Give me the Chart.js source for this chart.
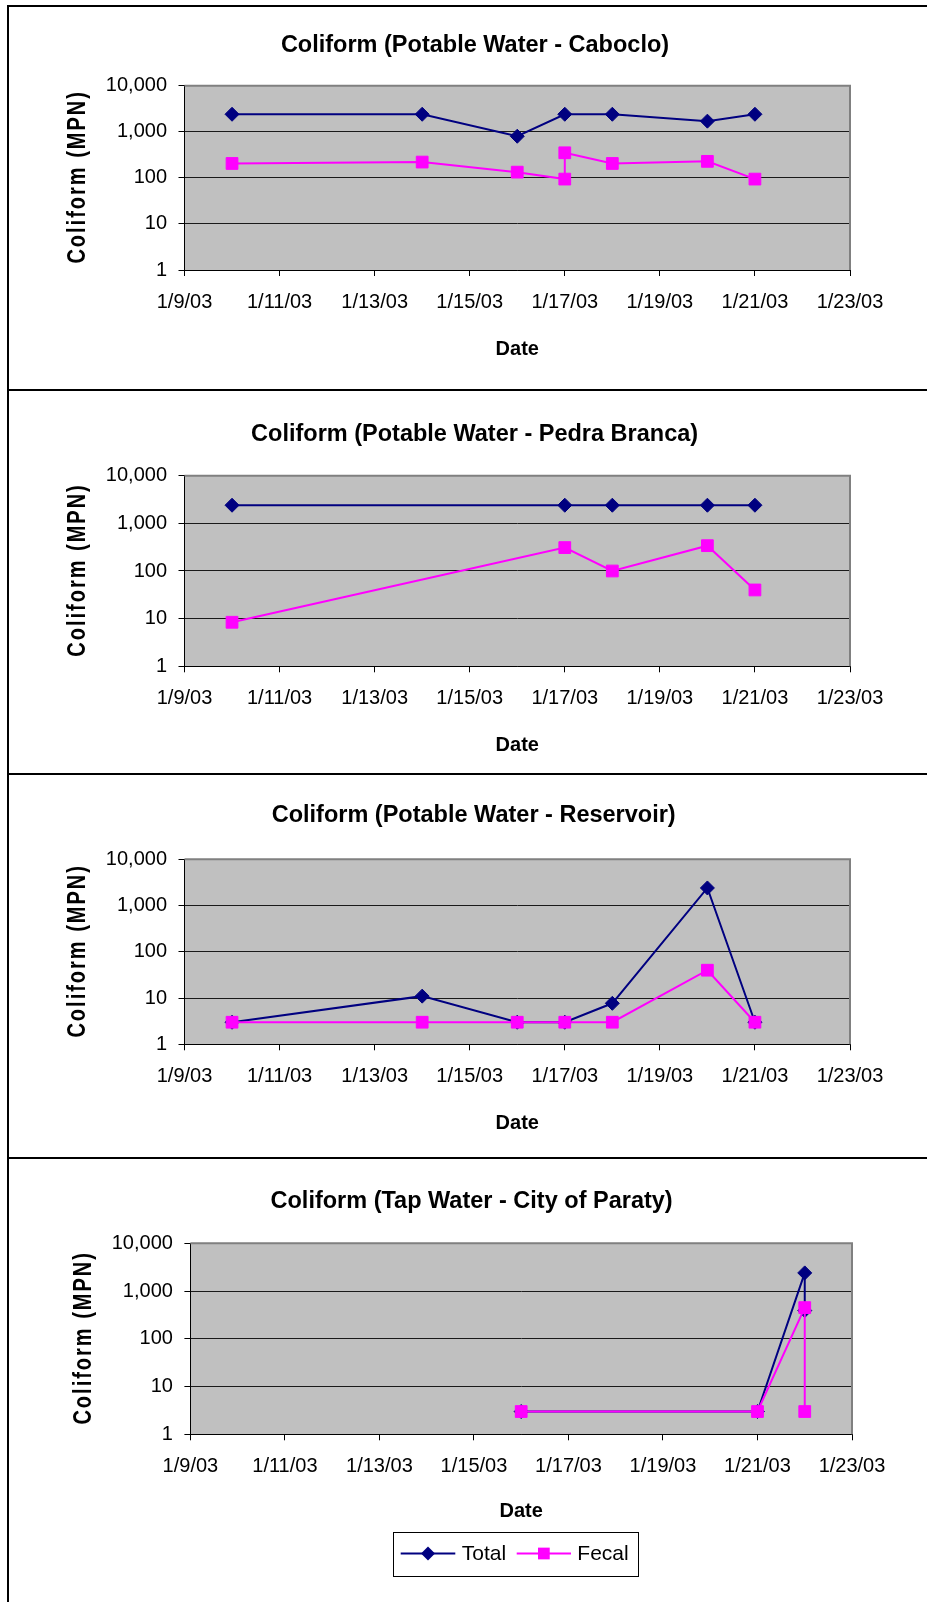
<!DOCTYPE html>
<html>
<head>
<meta charset="utf-8">
<title>Coliform counts, January 2003</title>
<script src="https://cdn.jsdelivr.net/npm/chart.js@4.4.1/dist/chart.umd.min.js"></script>
<style>
  html, body { margin: 0; padding: 0; background: #fff; }
  body { width: 927px; height: 1602px; overflow: hidden; position: relative; }
  .panel { position: absolute; left: 7px; width: 960px; border-top: 2px solid #000; border-left: 2px solid #000; }
  .panel canvas { position: absolute; left: 0; top: 0; }
</style>
</head>
<body>
<div class="panel" style="top:5px;height:382px"><canvas id="c0" width="918" height="382"></canvas></div>
<div class="panel" style="top:389px;height:382px"><canvas id="c1" width="918" height="382"></canvas></div>
<div class="panel" style="top:773px;height:382px"><canvas id="c2" width="918" height="382"></canvas></div>
<div class="panel" style="top:1157px;height:443px"><canvas id="c3" width="918" height="443"></canvas></div>

<script>
// ---- data: sampling dates and MPN counts ----
const xTickLabels = ['1/9/03', '1/11/03', '1/13/03', '1/15/03', '1/17/03', '1/19/03', '1/21/03', '1/23/03'];
const yTickValues = [1, 10, 100, 1000, 10000];

const cabocloTotalDates  = ['1/10/03', '1/14/03', '1/16/03', '1/17/03', '1/18/03', '1/20/03', '1/21/03'];
const cabocloTotalValues = [2400, 2400, 800, 2400, 2400, 1700, 2400];
const cabocloFecalDates  = ['1/10/03', '1/14/03', '1/16/03', '1/17/03', '1/17/03', '1/18/03', '1/20/03', '1/21/03'];
const cabocloFecalValues = [205, 220, 133, 94, 350, 205, 228, 94];

const pedraTotalDates  = ['1/10/03', '1/17/03', '1/18/03', '1/20/03', '1/21/03'];
const pedraTotalValues = [2400, 2400, 2400, 2400, 2400];
const pedraFecalDates  = ['1/10/03', '1/17/03', '1/18/03', '1/20/03', '1/21/03'];
const pedraFecalValues = [8.4, 310, 100, 340, 40];

const reservoirTotalDates  = ['1/10/03', '1/14/03', '1/16/03', '1/17/03', '1/18/03', '1/20/03', '1/21/03'];
const reservoirTotalValues = [3, 11, 3, 3, 7.7, 2400, 3];
const reservoirFecalDates  = ['1/10/03', '1/14/03', '1/16/03', '1/17/03', '1/18/03', '1/20/03', '1/21/03'];
const reservoirFecalValues = [3, 3, 3, 3, 3, 40, 3];

const tapTotalDates  = ['1/16/03', '1/21/03', '1/22/03', '1/22/03'];
const tapTotalValues = [3, 3, 2400, 390];
const tapFecalDates  = ['1/16/03', '1/21/03', '1/22/03', '1/22/03'];
const tapFecalValues = [3, 3, 450, 3];

// ---- styling ----
const NAVY = '#000080';
const MAGENTA = '#FF00FF';
const FONT = "'Liberation Sans', Arial, Helvetica, sans-serif";
const PLOT_BG = '#C0C0C0';
const FRAME = '#808080';

Chart.defaults.font.family = FONT;
Chart.defaults.color = '#000';

// page-space geometry of each panel (line = y of the panel's top rule)
const layouts = [
  { line: 6,    h: 382, L: 184.5, R: 850, T: 85.7,   B: 270,    titleX: 475,   titleY: 45.7,  tickY: 302.7,  dateY: 349 },
  { line: 390,  h: 382, L: 184.5, R: 850, T: 475.7,  B: 666.3,  titleX: 474.6, titleY: 435,   tickY: 698,    dateY: 745 },
  { line: 774,  h: 382, L: 184.5, R: 850, T: 859.3,  B: 1044.3, titleX: 473.7, titleY: 815.7, tickY: 1076.7, dateY: 1123 },
  { line: 1158, h: 443, L: 190.4, R: 852, T: 1243.3, B: 1434.3, titleX: 471.6, titleY: 1202,  tickY: 1466.7, dateY: 1511.7 }
];
const CANVAS_LEFT = 9;
const CANVAS_W = 918;

const panels = [
  { title: 'Coliform (Potable Water - Caboclo)',
    total: [cabocloTotalDates, cabocloTotalValues], fecal: [cabocloFecalDates, cabocloFecalValues] },
  { title: 'Coliform (Potable Water - Pedra Branca)',
    total: [pedraTotalDates, pedraTotalValues], fecal: [pedraFecalDates, pedraFecalValues] },
  { title: 'Coliform (Potable Water - Reservoir)',
    total: [reservoirTotalDates, reservoirTotalValues], fecal: [reservoirFecalDates, reservoirFecalValues] },
  { title: 'Coliform (Tap Water - City of Paraty)',
    total: [tapTotalDates, tapTotalValues], fecal: [tapFecalDates, tapFecalValues], legend: true }
];

function dayOf(label) { return Number(label.split('/')[1]); }
function toPoints(dates, values) { return dates.map((d, i) => ({ x: dayOf(d), y: values[i] })); }

// grey plot background plus the grey top/right frame
const plotFrame = {
  id: 'plotFrame',
  beforeDraw(chart) {
    const { ctx, chartArea: a } = chart;
    ctx.save();
    ctx.fillStyle = PLOT_BG;
    ctx.fillRect(a.left, a.top, a.right - a.left, a.bottom - a.top);
    ctx.restore();
  },
  beforeDatasetsDraw(chart) {
    const { ctx, chartArea: a } = chart;
    ctx.save();
    ctx.strokeStyle = FRAME;
    ctx.lineWidth = 2;
    ctx.beginPath();
    ctx.moveTo(a.left, a.top);
    ctx.lineTo(a.right, a.top);
    ctx.lineTo(a.right, a.bottom);
    ctx.stroke();
    ctx.restore();
  }
};

// chart heading and the rotated, letter-spaced value-axis title
const panelText = {
  id: 'panelText',
  afterDraw(chart, args, opts) {
    const { ctx, chartArea: a } = chart;
    ctx.save();
    ctx.fillStyle = '#000';
    ctx.textAlign = 'center';
    ctx.textBaseline = 'middle';
    ctx.font = `bold 23.5px ${FONT}`;
    ctx.fillText(opts.title, opts.x, opts.y);
    ctx.restore();

    ctx.save();
    ctx.fillStyle = '#000';
    ctx.translate(a.left - 106.5, (a.top + a.bottom) / 2);
    ctx.rotate(-Math.PI / 2);
    ctx.scale(1, 1.3);
    ctx.font = `bold 20px ${FONT}`;
    if ('letterSpacing' in ctx) ctx.letterSpacing = '2px';
    ctx.textAlign = 'center';
    ctx.textBaseline = 'middle';
    ctx.fillText('Coliform (MPN)', 1, 0);
    ctx.restore();
  }
};

function markerPath(ctx, style, x, y, r) {
  ctx.beginPath();
  if (style === 'rectRot') {
    ctx.moveTo(x - r, y); ctx.lineTo(x, y - r); ctx.lineTo(x + r, y); ctx.lineTo(x, y + r);
  } else {
    const s = r * Math.SQRT1_2;
    ctx.rect(x - s, y - s, 2 * s, 2 * s);
  }
  ctx.closePath();
}

// boxed series key (line with centred marker, then the label)
const seriesKey = {
  id: 'seriesKey',
  afterDraw(chart, args, opts) {
    if (!opts.show) return;
    const { ctx } = chart;
    const bx = 393 - CANVAS_LEFT, by = 1532 - opts.canvasTop, bw = 246, bh = 45;
    ctx.save();
    ctx.fillStyle = '#fff';
    ctx.fillRect(bx, by, bw, bh);
    ctx.strokeStyle = '#000';
    ctx.lineWidth = 1;
    ctx.strokeRect(bx + 0.5, by + 0.5, bw - 1, bh - 1);
    const cy = by + 21.5;
    const items = [
      { ds: chart.data.datasets[0], x0: 400.7, x1: 455.3, tx: 461.7 },
      { ds: chart.data.datasets[1], x0: 516.7, x1: 571, tx: 577.3 }
    ];
    items.forEach(it => {
      const x0 = it.x0 - CANVAS_LEFT, x1 = it.x1 - CANVAS_LEFT, mx = (x0 + x1) / 2;
      ctx.strokeStyle = it.ds.borderColor;
      ctx.lineWidth = it.ds.borderWidth;
      ctx.beginPath(); ctx.moveTo(x0, cy); ctx.lineTo(x1, cy); ctx.stroke();
      ctx.fillStyle = it.ds.pointBackgroundColor;
      markerPath(ctx, it.ds.pointStyle, mx, cy, it.ds.pointRadius);
      ctx.fill();
      ctx.fillStyle = '#000';
      ctx.font = `21px ${FONT}`;
      ctx.textAlign = 'left';
      ctx.textBaseline = 'middle';
      ctx.fillText(it.ds.label, it.tx - CANVAS_LEFT, cy + 1);
    });
    ctx.restore();
  }
};

panels.forEach((p, i) => {
  const g = layouts[i];
  const canvasTop = g.line + 1;
  const plotTop = g.T - canvasTop;
  const plotBottom = g.B - canvasTop;
  const xAxisH = (g.dateY - g.B) + 12;
  const yAxisW = g.L - CANVAS_LEFT;

  new Chart(document.getElementById('c' + i), {
    type: 'line',
    data: {
      datasets: [
        {
          label: 'Total',
          data: toPoints(p.total[0], p.total[1]),
          borderColor: NAVY, backgroundColor: NAVY, borderWidth: 2,
          pointStyle: 'rectRot', pointRadius: 7, pointHoverRadius: 7,
          pointBackgroundColor: NAVY, pointBorderColor: NAVY, pointBorderWidth: 1,
          tension: 0, order: 1
        },
        {
          label: 'Fecal',
          data: toPoints(p.fecal[0], p.fecal[1]),
          borderColor: MAGENTA, backgroundColor: MAGENTA, borderWidth: 2,
          pointStyle: 'rect', pointRadius: 8.3, pointHoverRadius: 8.3,
          pointBackgroundColor: MAGENTA, pointBorderColor: MAGENTA, pointBorderWidth: 1,
          tension: 0, order: 0
        }
      ]
    },
    options: {
      responsive: false,
      animation: false,
      devicePixelRatio: 1,
      events: [],
      layout: {
        padding: {
          left: 0,
          top: plotTop,
          right: CANVAS_W - (g.R - CANVAS_LEFT),
          bottom: g.h - plotBottom - xAxisH
        }
      },
      scales: {
        x: {
          type: 'linear',
          min: dayOf(xTickLabels[0]),
          max: dayOf(xTickLabels[xTickLabels.length - 1]),
          afterBuildTicks(axis) { axis.ticks = xTickLabels.map(l => ({ value: dayOf(l) })); },
          afterFit(axis) { axis.height = xAxisH; },
          ticks: {
            autoSkip: false, maxRotation: 0, minRotation: 0,
            padding: g.tickY - g.B - 6 - 12,
            font: { size: 20 }, color: '#000',
            callback: (v) => xTickLabels.find(l => dayOf(l) === v) || ''
          },
          grid: { drawOnChartArea: false, drawTicks: true, tickLength: 6, color: '#000', tickColor: '#000' },
          border: { display: true, color: '#000', width: 1 },
          title: { display: true, text: 'Date', color: '#000', padding: 0, font: { size: 20, weight: 'bold' } }
        },
        y: {
          type: 'logarithmic',
          min: yTickValues[0],
          max: yTickValues[yTickValues.length - 1],
          afterBuildTicks(axis) { axis.ticks = yTickValues.map(v => ({ value: v })); },
          afterFit(axis) { axis.width = yAxisW; },
          ticks: {
            autoSkip: false, padding: 11.5,
            font: { size: 20 }, color: '#000',
            callback: (v) => Number(v).toLocaleString('en-US')
          },
          grid: {
            drawTicks: true, tickLength: 6, lineWidth: 1, tickColor: '#000',
            color: (c) => (c.tick && c.tick.value === yTickValues[yTickValues.length - 1]) ? FRAME : '#1a1a1a'
          },
          border: { display: true, color: '#000', width: 1 },
          title: { display: false }
        }
      },
      plugins: {
        legend: { display: false },
        title: { display: false },
        tooltip: { enabled: false },
        panelText: { title: p.title, x: g.titleX - CANVAS_LEFT, y: g.titleY - canvasTop },
        seriesKey: { show: !!p.legend, canvasTop: canvasTop }
      }
    },
    plugins: [plotFrame, panelText, seriesKey]
  });
});
</script>
</body>
</html>
